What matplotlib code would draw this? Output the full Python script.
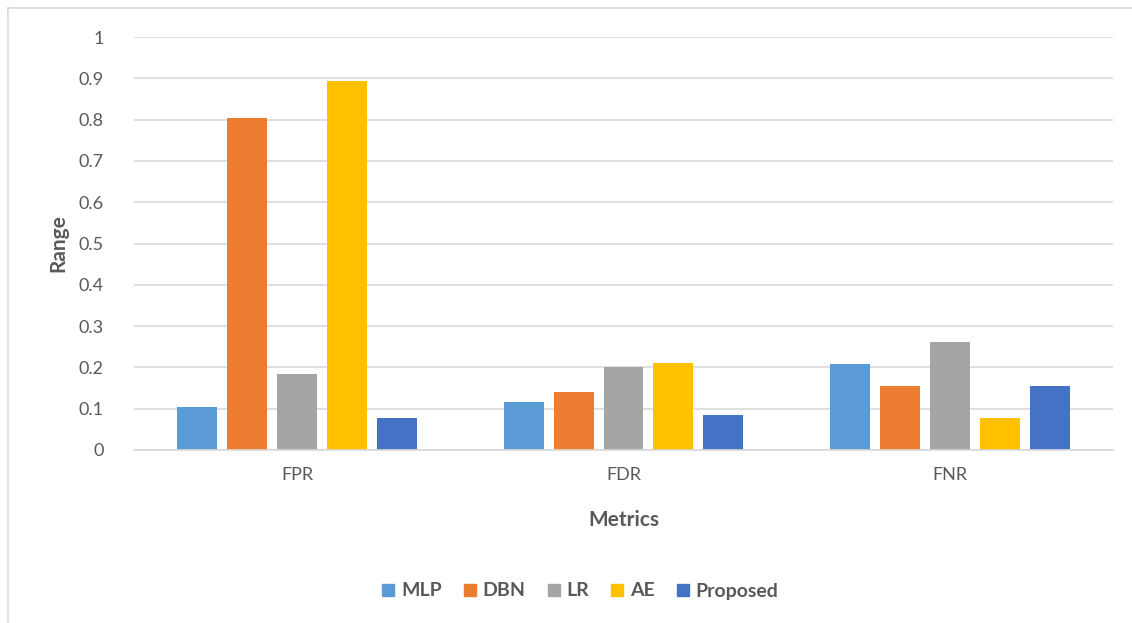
import matplotlib.pyplot as plt
import numpy as np
from matplotlib.lines import Line2D

# metric groups and per-model values
metrics = ['FPR', 'FDR', 'FNR']
models = ['MLP', 'DBN', 'LR', 'AE', 'Proposed']
mlp = [0.105, 0.117, 0.209]
dbn = [0.805, 0.141, 0.156]
lr = [0.184, 0.200, 0.262]
ae = [0.894, 0.210, 0.077]
proposed = [0.078, 0.085, 0.156]
yticks = [0, 0.1, 0.2, 0.3, 0.4, 0.5, 0.6, 0.7, 0.8, 0.9, 1]
ytick_labels = ['0', '0.1', '0.2', '0.3', '0.4', '0.5', '0.6', '0.7', '0.8', '0.9', '1']

colors = ['#5b9bd5', '#ed7d31', '#a5a5a5', '#ffc000', '#4472c4']
series = [mlp, dbn, lr, ae, proposed]

plt.rcParams['font.family'] = ['Lato', 'DejaVu Sans']
text_col = '#595959'

fig = plt.figure(figsize=(11.32, 6.23), dpi=100)
ax = fig.add_axes([134 / 1132, 1 - 450 / 623, 979 / 1132, 413 / 623])

x = np.arange(len(metrics))
step = 50 / 326.7
width = 40 / 326.7
for i, (vals, c) in enumerate(zip(series, colors)):
    ax.bar(x + (i - 2) * step, vals, width, color=c, zorder=3)

ax.set_xlim(-0.5, 2.5)
ax.set_ylim(0, 1)
ax.set_yticks(yticks)
ax.set_yticklabels(ytick_labels)
ax.set_xticks(x)
ax.set_xticklabels(metrics)
ax.yaxis.grid(True, color='#d9d9d9', linewidth=1.2, zorder=0)
ax.tick_params(axis='both', length=0, labelsize=13, colors=text_col)
ax.tick_params(axis='y', pad=22)
ax.tick_params(axis='x', pad=12)
for s in ['top', 'right', 'left']:
    ax.spines[s].set_visible(False)
ax.spines['bottom'].set_color('#d9d9d9')
ax.spines['bottom'].set_linewidth(1.2)
ax.spines['bottom'].set_zorder(4)

ax.set_ylabel('Range', fontsize=15, fontweight='bold', color=text_col, labelpad=7)
ax.set_xlabel('Metrics', fontsize=15, fontweight='bold', color=text_col, labelpad=20)

handles = [Line2D([], [], marker='s', linestyle='', markersize=9,
                  markerfacecolor=c, markeredgecolor=c) for c in colors]
leg = fig.legend(handles, models, loc='center', bbox_to_anchor=(580 / 1132, 1 - 591 / 623),
                 ncol=5, frameon=False, handlelength=0.7, handletextpad=0.3,
                 columnspacing=1.1, prop={'weight': 'bold', 'size': 14})
for t in leg.get_texts():
    t.set_color(text_col)

# chart frame (left and top edges)
fig.add_artist(Line2D([7.5 / 1132, 7.5 / 1132], [0, 1 - 7.5 / 623], color='#d9d9d9', linewidth=1.2))
fig.add_artist(Line2D([7.5 / 1132, 1], [1 - 7.5 / 623, 1 - 7.5 / 623], color='#d9d9d9', linewidth=1.2))

fig.savefig('out.png', dpi=100)
